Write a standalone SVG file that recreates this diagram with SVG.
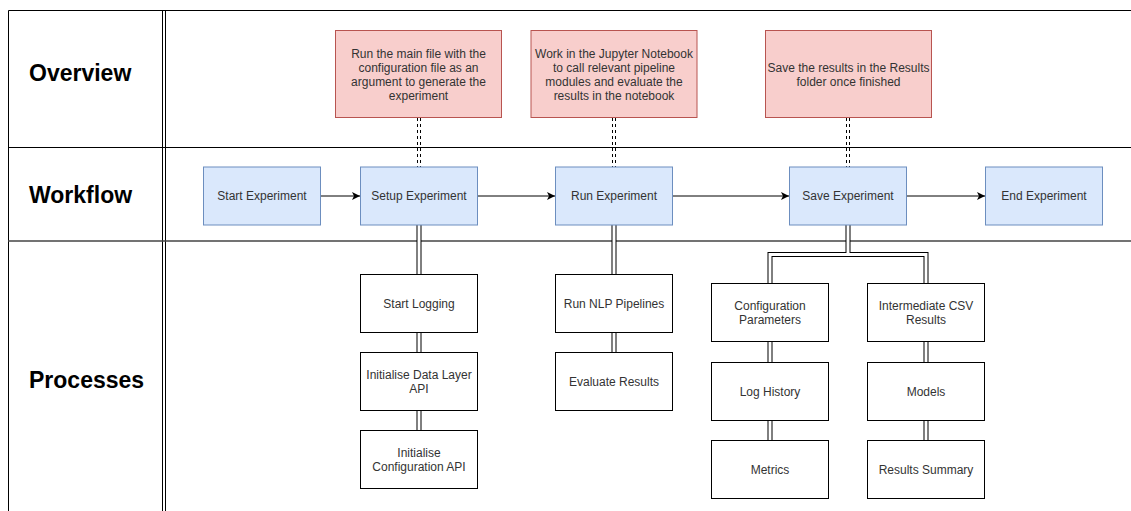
<svg xmlns="http://www.w3.org/2000/svg" width="1131" height="511" viewBox="0 0 1131 511">
<style>
.lane{stroke:#000;stroke-width:1;fill:none}
.lane2{stroke:#444;stroke-width:1.5;fill:none}
.hdr{font-family:"Liberation Sans",Arial,sans-serif;font-size:23px;font-weight:bold;fill:#000}
.red{fill:#f8cecc;stroke:#b85450;stroke-width:1}
.blue{fill:#dae8fc;stroke:#6c8ebf;stroke-width:1}
.proc{fill:#fff;stroke:#000;stroke-width:1}
.t{font-family:"Liberation Sans",Arial,sans-serif;font-size:12px;fill:#333;text-anchor:middle}
.arrow{stroke:#000;stroke-width:1;fill:none;marker-end:url(#ah)}
.linkO{stroke:#000;stroke-width:5;fill:none}
.linkI{stroke:#fff;stroke-width:3;fill:none}
.dash{stroke:#000;stroke-width:1;stroke-dasharray:3 3;fill:none}
</style>
<defs>
<marker id="ah" markerWidth="10" markerHeight="10" refX="8" refY="4" orient="auto" markerUnits="userSpaceOnUse">
<path d="M0,0 L8,4 L0,8 L2,4 Z" fill="#000"/>
</marker>
</defs>
<rect width="1131" height="511" fill="#fff"/>
<g id="lanes">
<path class="lane" d="M8.5,511 V10.5 H1131"/>
<path class="lane" d="M162.5,10 V511 M165.5,10 V511"/>
<path class="lane" d="M8,147.5 H1131"/>
<path class="lane2" d="M8,241 H1131"/>
<text class="hdr" x="29" y="81">Overview</text>
<text class="hdr" x="29" y="203">Workflow</text>
<text class="hdr" x="29" y="388">Processes</text>
</g>
<g id="connectors">
<path class="dash" d="M417.5,118 V167 M420.5,118 V167"/>
<path class="dash" d="M612.5,118 V167 M615.5,118 V167"/>
<path class="dash" d="M846.5,118 V167 M849.5,118 V167"/>
<path class="arrow" d="M320.5,196 H360"/>
<path class="arrow" d="M477.5,196 H555"/>
<path class="arrow" d="M672.5,196 H789"/>
<path class="arrow" d="M906.5,196 H985"/>
<path class="linkO" d="M419,225 V274.5 M419,332.5 V352.5 M419,410.5 V430.5 M614,225 V274.5 M614,332.5 V352.5 M848,225 V254.5 H770 V283.5 M848,254.5 H926 V283.5 M770,341.5 V362.5 M770,420.5 V440.5 M926,341.5 V362.5 M926,420.5 V440.5"/>
<path class="linkI" d="M419,225 V274.5 M419,332.5 V352.5 M419,410.5 V430.5 M614,225 V274.5 M614,332.5 V352.5 M848,225 V254.5 H770 V283.5 M848,254.5 H926 V283.5 M770,341.5 V362.5 M770,420.5 V440.5 M926,341.5 V362.5 M926,420.5 V440.5"/>
</g>
<g id="ov1"><rect class="red" x="335.5" y="30.5" width="166" height="87"/>
<text class="t" x="418.5"><tspan x="418.5" y="57.5">Run the main file with the</tspan><tspan x="418.5" y="71.5">configuration file as an</tspan><tspan x="418.5" y="85.5">argument to generate the</tspan><tspan x="418.5" y="99.5">experiment</tspan></text></g>
<g id="ov2"><rect class="red" x="531" y="30.5" width="166" height="87"/>
<text class="t"><tspan x="614" y="57.5">Work in the Jupyter Notebook</tspan><tspan x="614" y="71.5">to call relevant pipeline</tspan><tspan x="614" y="85.5">modules and evaluate the</tspan><tspan x="614" y="99.5">results in the notebook</tspan></text></g>
<g id="ov3"><rect class="red" x="765.5" y="30.5" width="166" height="87"/>
<text class="t"><tspan x="848.5" y="71.5">Save the results in the Results</tspan><tspan x="848.5" y="85.5">folder once finished</tspan></text></g>
<g id="start"><rect class="blue" x="203.5" y="167" width="117" height="58"/><text class="t" x="262" y="200.3">Start Experiment</text></g>
<g id="setup"><rect class="blue" x="360.5" y="167" width="117" height="58"/><text class="t" x="419" y="200.3">Setup Experiment</text></g>
<g id="run"><rect class="blue" x="555.5" y="167" width="117" height="58"/><text class="t" x="614" y="200.3">Run Experiment</text></g>
<g id="save"><rect class="blue" x="789.5" y="167" width="117" height="58"/><text class="t" x="848" y="200.3">Save Experiment</text></g>
<g id="end"><rect class="blue" x="985.5" y="167" width="117" height="58"/><text class="t" x="1044" y="200.3">End Experiment</text></g>
<g id="startLogging"><rect class="proc" x="360.5" y="274.5" width="117" height="58"/><text class="t" x="419" y="307.8">Start Logging</text></g>
<g id="initData"><rect class="proc" x="360.5" y="352.5" width="117" height="58"/><text class="t"><tspan x="419" y="378.8">Initialise Data Layer</tspan><tspan x="419" y="392.8">API</tspan></text></g>
<g id="initConfig"><rect class="proc" x="360.5" y="430.5" width="117" height="58"/><text class="t"><tspan x="419" y="456.8">Initialise</tspan><tspan x="419" y="470.8">Configuration API</tspan></text></g>
<g id="runNLP"><rect class="proc" x="555.5" y="274.5" width="117" height="58"/><text class="t" x="614" y="307.8">Run NLP Pipelines</text></g>
<g id="evaluate"><rect class="proc" x="555.5" y="352.5" width="117" height="58"/><text class="t" x="614" y="385.8">Evaluate Results</text></g>
<g id="configParams"><rect class="proc" x="711.5" y="283.5" width="117" height="58"/><text class="t"><tspan x="770" y="309.8">Configuration</tspan><tspan x="770" y="323.8">Parameters</tspan></text></g>
<g id="logHistory"><rect class="proc" x="711.5" y="362.5" width="117" height="58"/><text class="t" x="770" y="395.8">Log History</text></g>
<g id="metrics"><rect class="proc" x="711.5" y="440.5" width="117" height="58"/><text class="t" x="770" y="473.8">Metrics</text></g>
<g id="intermediate"><rect class="proc" x="867.5" y="283.5" width="117" height="58"/><text class="t"><tspan x="926" y="309.8">Intermediate CSV</tspan><tspan x="926" y="323.8">Results</tspan></text></g>
<g id="models"><rect class="proc" x="867.5" y="362.5" width="117" height="58"/><text class="t" x="926" y="395.8">Models</text></g>
<g id="summary"><rect class="proc" x="867.5" y="440.5" width="117" height="58"/><text class="t" x="926" y="473.8">Results Summary</text></g>
</svg>
